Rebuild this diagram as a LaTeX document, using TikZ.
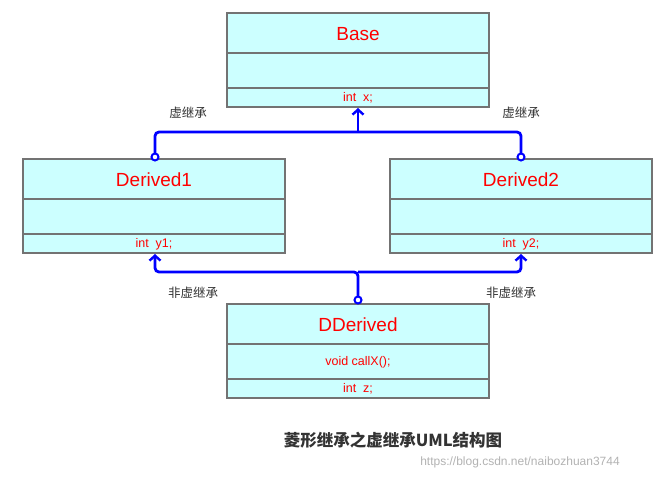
\documentclass[tikz,border=0pt]{standalone}
\usepackage{fontspec}
\setmainfont{Liberation Sans}
\newfontfamily\cjk{Noto Sans CJK SC}
\usetikzlibrary{arrows.meta}
\definecolor{cellc}{HTML}{CCFFFF}
\begin{document}
\begin{tikzpicture}[x=1pt,y=-1pt,
  cell/.style={draw=black!55,fill=cellc,line width=1.2pt},
  conn/.style={draw=blue,line width=2.8pt,rounded corners=4pt},
  tip/.style={-{Straight Barb[length=5pt,width=11pt,line width=2.4pt]}},
  dot/.style={circle,draw=blue,fill=white,line width=2pt,inner sep=0pt,minimum size=7pt},
  ttl/.style={text=red,font=\fontsize{19}{22}\selectfont},
  sm/.style={text=red,font=\fontsize{12.5}{14}\selectfont},
  lbl/.style={font=\cjk\fontsize{12.5}{14}\selectfont,text=black!80}]
\useasboundingbox (0,0) rectangle (659,480);
\newcommand\umlbox[6]{%
  \draw[cell] (#2,#3) rectangle (#2+262,#3+40);
  \draw[cell] (#2,#3+40) rectangle (#2+262,#3+75);
  \draw[cell] (#2,#3+75) rectangle (#2+262,#3+94);
  \node[ttl] (#1t) at (#2+131,#3+21) {#4};
  \node[sm] (#1m) at (#2+131,#3+58) {#5};
  \node[sm] (#1a) at (#2+131,#3+85) {#6};
  \coordinate (#1top) at (#2+131,#3);
  \coordinate (#1bot) at (#2+131,#3+94);}
\umlbox{B}{227}{13}{Base}{}{int\ \ x;}
\umlbox{L}{23}{159}{Derived1}{}{int\ \ y1;}
\umlbox{R}{390}{159}{Derived2}{}{int\ \ y2;}
\umlbox{D}{227}{304}{DDerived}{void callX();}{int\ \ z;}
\coordinate (bt) at (358,108);
\coordinate (lt) at (155,157);
\coordinate (rt) at (521,157);
\coordinate (lb) at (155,254);
\coordinate (rb) at (521,254);
\coordinate (dt) at (358,300);
\draw[conn] (lt) |- (358,132) -| (rt);
\draw[conn,tip,rounded corners=0pt] (358,132) -- (bt);
\draw[conn,tip] (dt) -- (358,272) -| (lb);
\draw[conn,tip] (358,272) -| (rb);
\node[dot] (ld) at (lt) {};
\node[dot] (rd) at (rt) {};
\node[dot] (dd) at (dt) {};
\node[lbl] (l1) at (188,113) {虚继承};
\node[lbl] (l2) at (521,113) {虚继承};
\node[lbl] (l3) at (193,293) {非虚继承};
\node[lbl] (l4) at (511,293) {非虚继承};
\node[font=\cjk\bfseries\fontsize{16.5}{19}\selectfont,text=black!80] (cap) at (393,440) {菱形继承之虚继承UML结构图};
\node[font=\fontsize{12}{14}\selectfont,text=black!30] (wm) at (520,462) {https://blog.csdn.net/naibozhuan3744};
\end{tikzpicture}
\end{document}
